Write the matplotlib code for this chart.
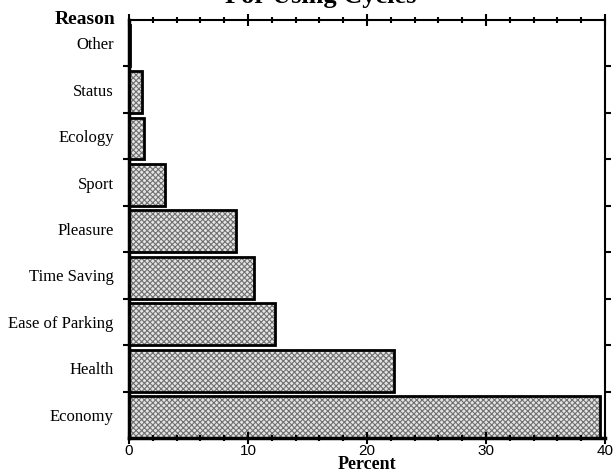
import matplotlib
matplotlib.use('Agg')
import matplotlib.pyplot as plt
from matplotlib.ticker import MultipleLocator, FixedLocator

# Reasons for using cycles (percent), bottom to top
reasons = ["Economy", "Health", "Ease of Parking", "Time Saving", "Pleasure",
           "Sport", "Ecology", "Status", "Other"]
percent = [39.6, 22.3, 12.3, 10.5, 9.0, 3.0, 1.3, 1.1, 0.1]

W, H = 613, 470
fig = plt.figure(figsize=(W / 100, H / 100), dpi=100)
ax = fig.add_axes([129 / W, 1 - 438 / H, (605 - 129) / W, (438 - 20) / H])

pos = list(range(len(reasons)))
bottoms = [p - 0.5 for p in pos]

# stipple fill, then the heavy black outline on top
plt.rcParams['hatch.linewidth'] = 0.8
ax.barh(bottoms, percent, height=0.9, align='edge', color='#e4e4e4',
        hatch='xxxxxx', edgecolor='#707070', linewidth=0)
ax.barh(bottoms, percent, height=0.9, align='edge', color='none',
        edgecolor='black', linewidth=2)

ax.set_xlim(0, 40)
ax.set_ylim(-0.5, len(reasons) - 0.5)

serif = 'Liberation Serif'
sans = 'Liberation Sans'

ax.xaxis.set_major_locator(MultipleLocator(10))
ax.xaxis.set_minor_locator(MultipleLocator(2))
ax.tick_params(axis='x', which='major', direction='inout', length=8, width=1.5,
               top=True, bottom=True, labelsize=11, pad=0)
ax.tick_params(axis='x', which='minor', direction='inout', length=4, width=1.5,
               top=True, bottom=True)
for lbl in ax.get_xticklabels():
    lbl.set_fontfamily(sans)

ax.set_yticks(pos)
ax.set_yticklabels(reasons, fontfamily=serif, fontsize=12)
ax.yaxis.set_minor_locator(FixedLocator([p + 0.5 for p in pos[:-1]]))
ax.tick_params(axis='y', which='major', length=0, pad=11)
ax.tick_params(axis='y', which='minor', direction='out', length=4, width=1.5,
               left=True, right=True)

ax.spines['left'].set_linewidth(2.5)
ax.spines['bottom'].set_linewidth(2.5)
ax.spines['top'].set_linewidth(1.5)
ax.spines['right'].set_linewidth(1.5)

fig.text(115 / W, 1 - 20 / H, 'Reason', ha='right', va='center',
         fontfamily=serif, fontweight='bold', fontsize=14)
fig.text(367 / W, 1 - 469 / H, 'Percent', ha='center', va='baseline',
         fontfamily=serif, fontweight='bold', fontsize=13)
fig.text(321 / W, 1 - 3 / H, 'For Using Cycles', ha='center', va='baseline',
         fontfamily=serif, fontweight='bold', fontsize=19)

fig.savefig('out.png', dpi=100)
